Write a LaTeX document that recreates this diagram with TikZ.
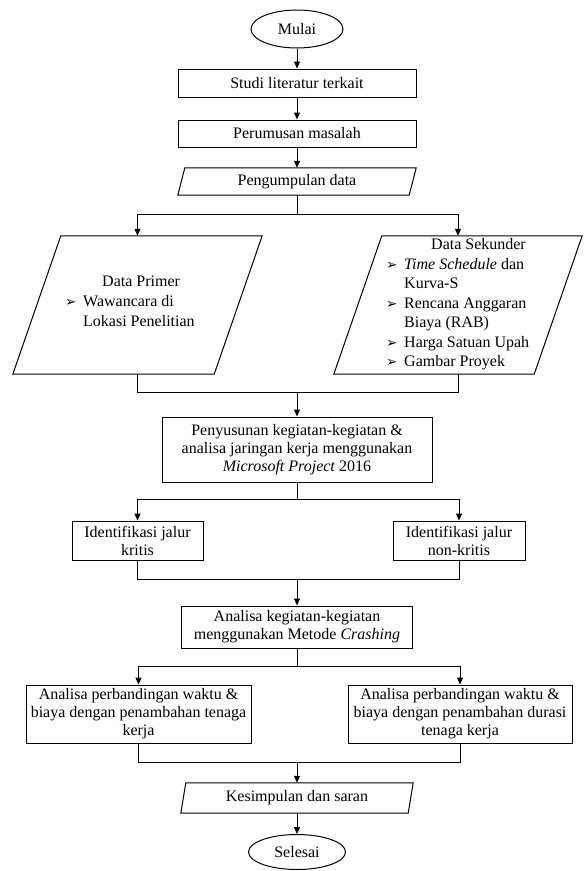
\documentclass[tikz,border=0pt]{standalone}
\usepackage{fontspec}
\setmainfont{Liberation Serif}
\newfontfamily\dejavu{DejaVu Sans}
\usetikzlibrary{shapes.geometric,arrows.meta,calc}
\newcommand\bul{\makebox[18pt][l]{\dejavu\fontsize{13.5pt}{13.5pt}\selectfont ➢}}
\newcommand\ind{\hspace*{18pt}}
\newcommand\mypara[2]{\draw[ln] (#1.south west) -- ([xshift=#2]#1.north west) -- (#1.north east) -- ([xshift=-#2]#1.south east) -- cycle;}
\begin{document}
\begin{tikzpicture}[x=1pt,y=-1pt,
  every node/.style={font=\fontsize{16pt}{18pt}\selectfont},
  box/.style={draw, line width=1pt, inner sep=0pt, align=center},
  pbox/.style={inner sep=0pt, align=center},
  term/.style={draw, ellipse, line width=1pt, inner sep=0pt},
  ln/.style={line width=1pt},
  arr/.style={ln, -{Triangle[length=7pt,width=6pt]}},
  lst/.style={anchor=west, align=left, inner sep=0pt}
]
\useasboundingbox (0,0) rectangle (584,871);

\node[term, minimum width=92pt, minimum height=38pt] (mulai) at (297,29) {Mulai};
\node[box, minimum width=238pt, minimum height=28pt] (studi) at (297,83) {Studi literatur terkait};
\node[box, minimum width=238pt, minimum height=27pt] (rumus) at (297,133.5) {Perumusan masalah};
\node[pbox, minimum width=238pt, minimum height=27pt] (kumpul) at (297,181.5) {Pengumpulan data};
\mypara{kumpul}{7pt}

\node[pbox, minimum width=249pt, minimum height=138pt] (prim) at (137.5,305) {};
\mypara{prim}{48pt}
\node[lst, font=\fontsize{16pt}{20pt}\selectfont] (primtxt) at (65,301)
  {\hspace*{37pt}Data Primer\\ \bul Wawancara di\\ \ind Lokasi Penelitian};

\node[pbox, minimum width=248pt, minimum height=138pt] (sek) at (458,305) {};
\mypara{sek}{48pt}
\node[lst, font=\fontsize{16pt}{19.5pt}\selectfont] (sektxt) at (386,304.5)
  {\hspace*{45pt}Data Sekunder\\ \bul\textit{Time Schedule} dan\\ \ind Kurva-S\\ \bul Rencana Anggaran\\ \ind Biaya (RAB)\\ \bul Harga Satuan Upah\\ \bul Gambar Proyek};

\node[box, minimum width=270pt, minimum height=65pt] (susun) at (297,449.5)
  {Penyusunan kegiatan-kegiatan \&\\ analisa jaringan kerja menggunakan\\ \textit{Microsoft Project} 2016};

\node[box, minimum width=131pt, minimum height=39pt] (krit) at (137.5,540.5) {Identifikasi jalur\\ kritis};
\node[box, minimum width=132pt, minimum height=39pt] (nkrit) at (459,540.5) {Identifikasi jalur\\ non-kritis};

\node[box, minimum width=231pt, minimum height=42pt] (crash) at (297,627)
  {Analisa kegiatan-kegiatan\\ menggunakan Metode \textit{Crashing}};

\node[box, minimum width=225pt, minimum height=58pt] (bandA) at (138.5,714)
  {Analisa perbandingan waktu \&\\ biaya dengan penambahan tenaga\\ kerja};
\node[box, minimum width=224pt, minimum height=58pt] (bandB) at (460,714)
  {Analisa perbandingan waktu \&\\ biaya dengan penambahan durasi\\ tenaga kerja};

\node[pbox, minimum width=232pt, minimum height=30pt] (simpul) at (297,798) {Kesimpulan dan saran};
\mypara{simpul}{5pt}

\node[term, minimum width=97pt, minimum height=35pt] (selesai) at (297,852) {Selesai};

\coordinate (s1) at (297,214);
\coordinate (j1) at (297,392);
\coordinate (s2) at (297,499);
\coordinate (j2) at (297,579);
\coordinate (s3) at (297,666);
\coordinate (j3) at (297,762);

\draw[arr] (mulai) -- (studi);
\draw[arr] (studi) -- (rumus);
\draw[arr] (rumus) -- (kumpul);
\draw[ln] (kumpul.south) -- (s1);
\draw[arr] (s1) -| (prim.north);
\draw[arr] (s1) -| (sek.north);
\draw[ln] (prim.south) |- (j1);
\draw[ln] (sek.south) |- (j1);
\draw[arr] (j1) -- (susun.north);
\draw[ln] (susun.south) -- (s2);
\draw[arr] (s2) -| (krit.north);
\draw[arr] (s2) -| (nkrit.north);
\draw[ln] (krit.south) |- (j2);
\draw[ln] (nkrit.south) |- (j2);
\draw[arr] (j2) -- (crash.north);
\draw[ln] (crash.south) -- (s3);
\draw[arr] (s3) -| (bandA.north);
\draw[arr] (s3) -| (bandB.north);
\draw[ln] (bandA.south) |- (j3);
\draw[ln] (bandB.south) |- (j3);
\draw[arr] (j3) -- (simpul.north);
\draw[arr] (simpul) -- (selesai);
\end{tikzpicture}
\end{document}
